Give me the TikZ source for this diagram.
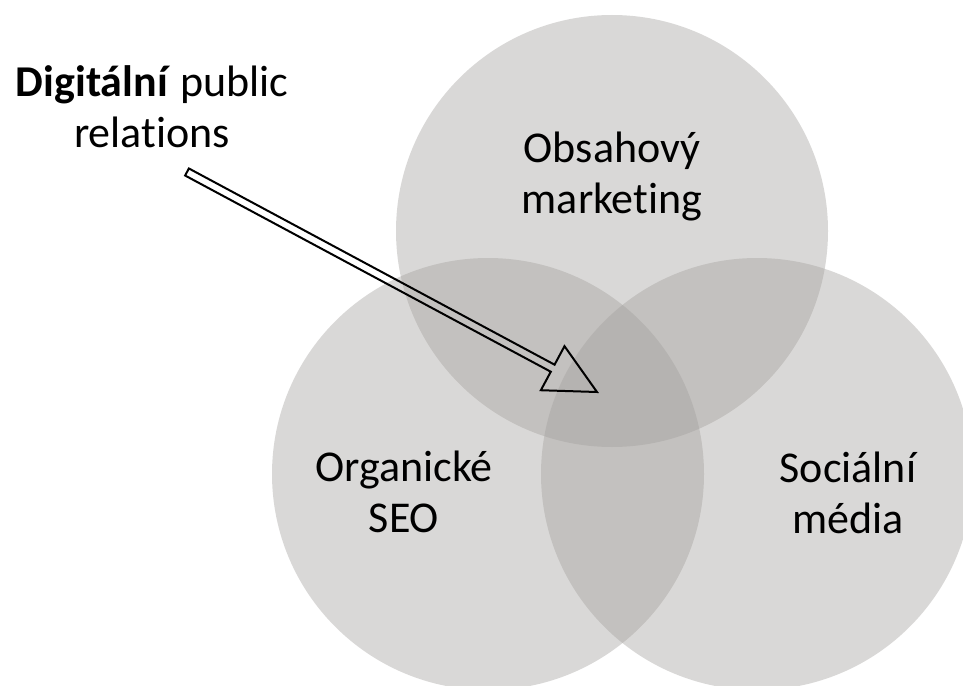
\documentclass[tikz,border=0pt]{standalone}
\usepackage{fontspec}
\setmainfont[Ligatures={TeX,NoCommon}]{Carlito}
\usetikzlibrary{calc}
\definecolor{venn}{RGB}{162,159,156}
\tikzset{
  vennc/.style={circle, minimum size=432pt, inner sep=0pt, fill=venn, fill opacity=0.4, draw=none},
  lbl/.style={align=center, anchor=base, inner sep=0pt, text=black,
    font=\fontsize{44}{51}\selectfont},
  blockarrow/.style={draw=black, line width=2pt, line join=miter, fill=none}
}
\begin{document}
\begin{tikzpicture}[x=1pt,y=-1pt]
\useasboundingbox[fill=white] (0,0) rectangle (963,685);
% circles
\node[vennc] (top) at (612,231) {};
\node[vennc] (left) at (488,474) {};
\node[vennc] (right) at (757,474) {};
% labels (anchor = baseline of last line)
\node[lbl] (obs) at (612,213) {Obsahový\\marketing};
\node[lbl] (org) at (404,532) {Organické\\SEO};
\node[lbl] (soc) at (848,533) {Sociální\\média};
\node[lbl] (dpr) at (152,147) {\textbf{Digitální} public\\relations};
% block arrow
\coordinate (tail) at (187,172);
\coordinate (tip) at (597,392);
\coordinate (base) at ($(tail)!415pt!(tip)$);
\draw[blockarrow]
  ($(tail)!4pt!90:(tip)$) --
  ($(base)!4pt!-90:(tail)$) --
  ($(base)!25pt!-90:(tail)$) --
  (tip) --
  ($(base)!25pt!90:(tail)$) --
  ($(base)!4pt!90:(tail)$) --
  ($(tail)!4pt!-90:(tip)$) -- cycle;
\end{tikzpicture}
\end{document}
